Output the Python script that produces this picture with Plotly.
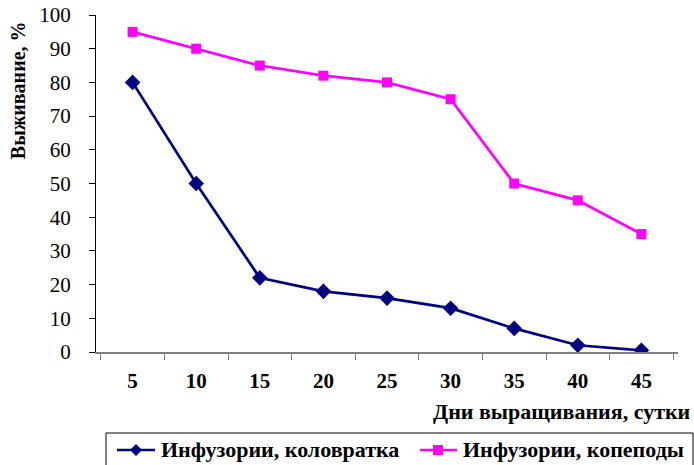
import plotly.graph_objects as go

days = ["5", "10", "15", "20", "25", "30", "35", "40", "45"]
rotifer = [80, 50, 22, 18, 16, 13, 7, 2, 0.5]
copepod = [95, 90, 85, 82, 80, 75, 50, 45, 35]
y_ticks = [0, 10, 20, 30, 40, 50, 60, 70, 80, 90, 100]
series_names = ["Инфузории, коловратка", "Инфузории, копеподы"]

FONT = "'Liberation Serif', 'Times New Roman', serif"
NAVY = "#000080"
MAGENTA = "#FF00FF"

fig = go.Figure()
fig.add_trace(go.Scatter(
    x=days, y=rotifer, mode="lines+markers", name=series_names[0],
    line=dict(color=NAVY, width=2.7),
    marker=dict(symbol="diamond", size=12, color=NAVY),
    showlegend=False,
))
fig.add_trace(go.Scatter(
    x=days, y=copepod, mode="lines+markers", name=series_names[1],
    line=dict(color=MAGENTA, width=2.7),
    marker=dict(symbol="square", size=10, color=MAGENTA),
    showlegend=False,
))

tick_font = dict(family=FONT, size=21, color="black")

# legend box along the bottom, drawn in paper coordinates
shapes = [
    dict(type="rect", xref="paper", yref="paper",
         x0=0.0172, x1=1.0258, y0=-0.2404, y1=-0.40,
         line=dict(color="black", width=1), fillcolor="white", layer="below"),
]
annotations = []
legend_items = [
    (series_names[0], NAVY, "diamond", 0.0361, 0.1014, 0.0687, 0.108),
    (series_names[1], MAGENTA, "square", 0.5567, 0.6203, 0.5876, 0.6270),
]
ly = -0.2908
for name, color, sym, lx0, lx1, mx, tx in legend_items:
    shapes.append(dict(type="line", xref="paper", yref="paper",
                       x0=lx0, x1=lx1, y0=ly, y1=ly,
                       line=dict(color=color, width=2.7)))
    if sym == "diamond":
        shapes.append(dict(type="path", xref="paper", yref="paper",
                           xsizemode="pixel", ysizemode="pixel",
                           xanchor=mx, yanchor=ly,
                           path="M0,6 L6,0 L0,-6 L-6,0 Z",
                           fillcolor=color, line=dict(color=color, width=0)))
    else:
        shapes.append(dict(type="rect", xref="paper", yref="paper",
                           xsizemode="pixel", ysizemode="pixel",
                           xanchor=mx, yanchor=ly,
                           x0=-5, x1=5, y0=-5, y1=5,
                           fillcolor=color, line=dict(color=color, width=0)))
    annotations.append(dict(text="<b>" + name + "</b>", xref="paper", yref="paper",
                            x=tx, y=ly, xanchor="left", yanchor="middle",
                            showarrow=False,
                            font=dict(family=FONT, size=22, color="black")))

annotations += [
    dict(text="<b>Дни выращивания, сутки</b>", xref="paper", yref="paper",
         x=1.0258, y=-0.178, xanchor="right", yanchor="middle", showarrow=False,
         font=dict(family=FONT, size=22, color="black")),
    dict(text="<b>Выживание, %</b>", xref="paper", yref="paper",
         x=-0.134, y=0.777, xanchor="center", yanchor="middle", textangle=-90,
         showarrow=False,
         font=dict(family=FONT, size=20, color="black")),
]

fig.update_layout(
    width=694, height=465,
    margin=dict(l=96, r=16, t=15, b=113, autoexpand=False),
    plot_bgcolor="white", paper_bgcolor="white",
    font=dict(family=FONT, size=21, color="black"),
    showlegend=False,
    xaxis=dict(
        type="category", tickson="boundaries",
        showline=True, linecolor="#808080", linewidth=2,
        ticks="outside", ticklen=6, tickcolor="#808080", tickwidth=1,
        tickfont=tick_font, tickprefix="<b>", ticksuffix="</b>",
        ticklabelstandoff=9,
        showgrid=False, zeroline=False,
    ),
    yaxis=dict(
        range=[0, 100], tickvals=y_ticks,
        showline=True, linecolor="black", linewidth=1,
        ticks="outside", ticklen=6, tickcolor="black",
        tickfont=tick_font, tickprefix="<b>", ticksuffix="</b>",
        ticklabelstandoff=14,
        showgrid=False, zeroline=False,
    ),
    shapes=shapes,
    annotations=annotations,
)

fig.write_html("out.html")
